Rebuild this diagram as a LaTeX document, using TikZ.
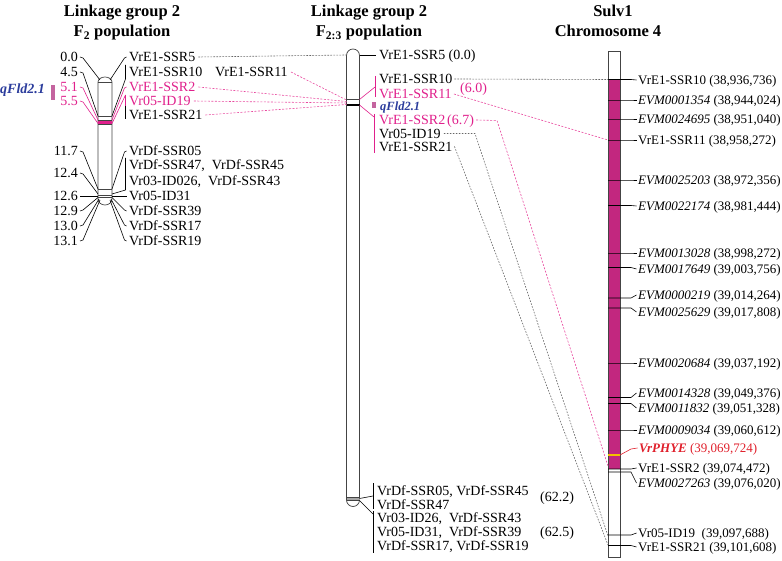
\documentclass[tikz,border=0pt]{standalone}
\usepackage{fontspec}
\setmainfont{Liberation Serif}
\definecolor{pk}{HTML}{E0208C}
\definecolor{pkd}{HTML}{E8489E}
\definecolor{mag}{HTML}{C2277F}
\definecolor{qbl}{HTML}{2B3C9C}
\definecolor{qbar}{HTML}{C4649F}
\definecolor{redt}{HTML}{E0202C}
\definecolor{yel}{HTML}{F2C100}
\definecolor{chr}{HTML}{444444}
\newcommand\RMark[4]{%
  \coordinate (rc#1) at (608,#2);
  \node[labR] (r#1) at (638,#3) {#4};
  \draw[cn] (rc#1) -- ++(23,0) -- ([xshift=-1.5pt]r#1.west);
}
\begin{document}
\begin{tikzpicture}[x=1pt,y=-1pt,
 titl/.style={font=\fontsize{16.5}{18}\selectfont\bfseries, anchor=base, inner sep=0},
 labL/.style={font=\fontsize{14}{16}\selectfont, anchor=west, inner sep=0, text height=9.3pt, text depth=0pt},
 numL/.style={labL, anchor=east},
 labR/.style={font=\fontsize{13}{15}\selectfont, anchor=west, inner sep=0, text height=8.6pt, text depth=0pt},
 cn/.style={line width=0.6pt, black},
 cnp/.style={line width=0.6pt, pk},
 dotg/.style={line width=0.6pt, black!60, dash pattern=on 1.6pt off 1.4pt},
 dotp/.style={line width=0.6pt, pkd, dash pattern=on 2pt off 1.5pt},
 chro/.style={line width=0.7pt, chr},
 qlab/.style={font=\fontsize{14}{16}\selectfont\bfseries\itshape, text=qbl, anchor=west, inner sep=0, text height=9.3pt, text depth=0pt},
]
\useasboundingbox (0,0) rectangle (782,561);

% ---------- titles ----------
\node[titl] (t1) at (122,17) {Linkage group 2};
\node[titl] (t2) at (122,37) {F\textsubscript{2} population};
\node[titl] (t3) at (369,17) {Linkage group 2};
\node[titl] (t4) at (369,37) {F\textsubscript{2:3} population};
\node[titl] (t5) at (613,17) {Sulv1};
\node[titl] (t6) at (608,37) {Chromosome 4};

% ---------- left chromosome ----------
\draw[chro, fill=white] (98,199) -- (98,82) arc[start angle=180,end angle=360,x radius=7,y radius=5]
   -- (112,199) arc[start angle=0,end angle=180,x radius=7,y radius=6] -- cycle;
\fill[pk] (98,120) rectangle (112,124);
\draw[chro] (98,82) -- (112,82);
\draw[chro] (98,116) -- (112,116);
\draw[chro] (98,120) -- (112,120);
\draw[chro] (98,124) -- (112,124);
\draw[chro] (98,189) -- (112,189);
\draw[chro] (98,195) -- (112,195);
\draw[chro] (98,197.5) -- (112,197.5);

\coordinate (cl0) at (100,80);  \coordinate (cr0) at (110,80);
\coordinate (cl1) at (98,116);  \coordinate (cr1) at (112,116);
\coordinate (cl2) at (98,120);  \coordinate (cr2) at (112,120);
\coordinate (cl3) at (98,123.5);\coordinate (cr3) at (112,123.5);
\coordinate (cl4) at (98,189);  \coordinate (cr4) at (112,189);
\coordinate (cl5) at (98,194);  \coordinate (cr5) at (112,194);
\coordinate (cl6) at (98,196);  \coordinate (cr6) at (112,196);
\coordinate (cl7) at (98,197.5);\coordinate (cr7) at (112,197.5);
\coordinate (cl8) at (99,199);  \coordinate (cr8) at (111,199);
\coordinate (cl9) at (100,200); \coordinate (cr9) at (110,200);

% numbers
\node[numL] (n1) at (78,57) {0.0};
\node[numL] (n2) at (78,72) {4.5};
\node[numL, text=pk] (n3) at (78,87) {5.1};
\node[numL, text=pk] (n4) at (78,101) {5.5};
\node[numL] (n5) at (78,151) {11.7};
\node[numL] (n6) at (78,173) {12.4};
\node[numL] (n7) at (78,196) {12.6};
\node[numL] (n8) at (78,211) {12.9};
\node[numL] (n9) at (78,226) {13.0};
\node[numL] (n10) at (78,241) {13.1};

\draw[cn]  ([xshift=2pt]n1.east) -- ++(3,1) -- (cl0);
\draw[cn]  ([xshift=2pt]n2.east) -- ++(3,1) -- (cl1);
\draw[cnp] ([xshift=2pt]n3.east) -- ++(3,1) -- (cl2);
\draw[cnp] ([xshift=2pt]n4.east) -- ++(3,1) -- (cl3);
\draw[cn]  ([xshift=2pt]n5.east) -- ++(3,1) -- (cl4);
\draw[cn]  ([xshift=2pt]n6.east) -- ++(3,1) -- (cl5);
\draw[cn]  ([xshift=2pt]n7.east) -- (cl6);
\draw[cn]  ([xshift=2pt]n8.east) -- ++(3,-1) -- (cl7);
\draw[cn]  ([xshift=2pt]n9.east) -- ++(3,-1) -- (cl8);
\draw[cn]  ([xshift=2pt]n10.east) -- ++(3,-1) -- (cl9);

% qFld2.1 (F2)
\node[qlab] (q1) at (0,89) {qFld2.1};
\fill[qbar] (50.5,85) rectangle (54.5,100.5);

% marker labels
\node[labL] (a1) at (129,57) {VrE1-SSR5};
\node[labL] (a2) at (129,72) {VrE1-SSR10};
\node[labL] (a2b) at (215,72) {VrE1-SSR11};
\node[labL, text=pk] (a3) at (129,87) {VrE1-SSR2};
\node[labL, text=pk] (a4) at (129,101) {Vr05-ID19};
\node[labL] (a5) at (129,115) {VrE1-SSR21};
\node[labL] (b1) at (129,151) {VrDf-SSR05};
\node[labL] (b2) at (129,165) {VrDf-SSR47,\ \ VrDf-SSR45};
\node[labL] (b3) at (129,181) {Vr03-ID026,\ \ VrDf-SSR43};
\node[labL] (b4) at (129,196) {Vr05-ID31};
\node[labL] (b5) at (129,211) {VrDf-SSR39};
\node[labL] (b6) at (129,226) {VrDf-SSR17};
\node[labL] (b7) at (129,241) {VrDf-SSR19};

\coordinate (bk1t) at (125.5,65);  \coordinate (bk1b) at (125.5,79);
\coordinate (bk2t) at (125.5,95);  \coordinate (bk2m) at (125.5,106); \coordinate (bk2b) at (125.5,119);
\coordinate (bk3t) at (125.5,158); \coordinate (bk3b) at (125.5,190);

\draw[cn]  ([xshift=-2.5pt]a1.west) -- ++(-2,1) -- (cr0);
\draw[cn]  (bk1t) -- (bk1b) -- (cr1);
\draw[cnp] ([xshift=-2.5pt]a3.west) -- ++(-2,1) -- (cr2);
\draw[cnp] (bk2t) -- (bk2m);
\draw[cn]  (bk2m) -- (bk2b);
\draw[cnp] (bk2t) -- (cr3);
\draw[cn]  ([xshift=-2.5pt]b1.west) -- ++(-2,1) -- (cr4);
\draw[cn]  (bk3t) -- (bk3b) -- (cr5);
\draw[cn]  ([xshift=-2.5pt]b4.west) -- (cr6);
\draw[cn]  ([xshift=-2.5pt]b5.west) -- ++(-2,-1) -- (cr7);
\draw[cn]  ([xshift=-2.5pt]b6.west) -- ++(-2,-1) -- (cr8);
\draw[cn]  ([xshift=-2.5pt]b7.west) -- ++(-2,-1) -- (cr9);

% ---------- middle chromosome ----------
\draw[chro, fill=white] (346.5,500) -- (346.5,55.5) arc[start angle=180,end angle=360,radius=6.5]
   -- (359.5,500) arc[start angle=0,end angle=180,radius=6.5] -- cycle;
\draw[chro] (346.5,99.5) -- (359.5,99.5);
\draw[line width=1.3pt, black] (346.5,105) -- (359.5,105);
\fill[black!35] (346.5,497.5) rectangle (359.5,500.5);
\draw[chro] (346.5,497.5) -- (359.5,497.5);
\draw[chro] (346.5,500.5) -- (359.5,500.5);

\coordinate (mL55) at (346.5,55);
\coordinate (mR55) at (359.5,55);
\coordinate (mLa) at (346.5,100);
\coordinate (mLb) at (346.5,101.5);
\coordinate (mLc) at (346.5,103);
\coordinate (mLd) at (346.5,104.5);
\coordinate (mRa) at (359.5,99.5);
\coordinate (mRb) at (359.5,105);
\coordinate (mRc) at (359.5,498.5);
\coordinate (mRd) at (359.5,500.5);

\node[labL] (m1) at (379,55) {VrE1-SSR5 (0.0)};
\node[labL] (m2) at (379,79) {VrE1-SSR10};
\node[labL, text=pk] (m3) at (379,94) {VrE1-SSR11};
\node[labL, text=pk] (m3n) at (460,88) {(6.0)};
\node[qlab, font=\fontsize{12.5}{14}\selectfont\bfseries\itshape] (mq) at (380,106) {qFld2.1};
\fill[qbar] (371.5,102) rectangle (375.5,108);
\node[labL, text=pk] (m4) at (379,120) {VrE1-SSR2};
\node[labL, text=pk] (m4n) at (447,120) {(6.7)};
\node[labL] (m5) at (379,133.5) {Vr05-ID19};
\node[labL] (m6) at (379,146.5) {VrE1-SSR21};

\coordinate (pb1t) at (375,76);  \coordinate (pb1m) at (375,87);  \coordinate (pb1b) at (375,97);
\coordinate (pb2t) at (374,114); \coordinate (pb2m) at (374,117); \coordinate (pb2b) at (374,153);
\draw[cn]  (mR55) -- ([xshift=-3pt]m1.west);
\draw[cnp] (pb1t) -- (pb1b);
\draw[cnp] (mRa) -- (pb1m);
\draw[cnp] (pb2t) -- (pb2b);
\draw[cnp] (mRb) -- (pb2m);

\node[labL] (mb1) at (377,491) {VrDf-SSR05, VrDf-SSR45};
\node[labL] (mb2) at (377,505) {VrDf-SSR47};
\node[labL] (mb3) at (540,497) {(62.2)};
\node[labL] (mb4) at (377,518) {Vr03-ID26,\ \ VrDf-SSR43};
\node[labL] (mb5) at (377,532) {Vr05-ID31,\ \ VrDf-SSR39};
\node[labL] (mb6) at (540,532) {(62.5)};
\node[labL] (mb7) at (377,546) {VrDf-SSR17, VrDf-SSR19};

\coordinate (kb1t) at (373,483); \coordinate (kb1m) at (373,496); \coordinate (kb1b) at (373,509);
\coordinate (kb2t) at (373,511); \coordinate (kb2m) at (373,514); \coordinate (kb2b) at (373,553);
\draw[cn] (kb1t) -- (kb1b);
\draw[cn] (mRc) -- (kb1m);
\draw[cn] (kb2t) -- (kb2b);
\draw[cn] (mRd) -- (kb2m);

% ---------- right chromosome ----------
\draw[chro, fill=white] (608,51) rectangle (620,557);
\fill[mag] (608,79.5) rectangle (620,469);
\draw[chro] (608,51) rectangle (620,557);

\RMark{1}{79.5}{80}{VrE1-SSR10 (38,936,736)}
\RMark{2}{100}{100}{\textit{EVM0001354} (38,944,024)}
\RMark{3}{119}{119}{\textit{EVM0024695} (38,951,040)}
\RMark{4}{140}{140}{VrE1-SSR11 (38,958,272)}
\RMark{5}{180}{180}{\textit{EVM0025203} (38,972,356)}
\RMark{6}{205.5}{206}{\textit{EVM0022174} (38,981,444)}
\RMark{7}{253}{253}{\textit{EVM0013028} (38,998,272)}
\RMark{8}{267.5}{269}{\textit{EVM0017649} (39,003,756)}
\RMark{9}{298}{295}{\textit{EVM0000219} (39,014,264)}
\RMark{10}{308}{312}{\textit{EVM0025629} (39,017,808)}
\RMark{11}{363}{363}{\textit{EVM0020684} (39,037,192)}
\RMark{12}{397.5}{393}{\textit{EVM0014328} (39,049,376)}
\RMark{13}{403.5}{408}{\textit{EVM0011832} (39,051,328)}
\RMark{14}{430}{430}{\textit{EVM0009034} (39,060,612)}
\RMark{16}{469}{468}{VrE1-SSR2 (39,074,472)}
\RMark{17}{472}{483}{\textit{EVM0027263} (39,076,020)}
\RMark{18}{535}{533}{Vr05-ID19\ \ (39,097,688)}
\RMark{19}{545.5}{547}{VrE1-SSR21 (39,101,608)}

\coordinate (phyL) at (608,455);
\coordinate (phyR) at (620,455);
\draw[line width=1.4pt, yel] (phyL) -- (phyR);
\node[labR, text=redt] (r15) at (639,448) {\textbf{\textit{VrPHYE}} (39,069,724)};
\draw[line width=0.6pt, redt] (phyR) -- ++(11,-6) -- ([xshift=-1.5pt]r15.west);

% ---------- inter-panel connectors ----------
\coordinate (rcA) at (608,79.5);
\coordinate (rcB) at (608,140);
\coordinate (rcC) at (608,466);
\coordinate (rcD) at (608,536);
\coordinate (rcE) at (608,545);
\coordinate (bendP) at (497,120.5);
\coordinate (bendG) at (475,133.5);

\draw[dotg] ([xshift=3pt]a1.east) -- (mL55);
\draw[dotp] ([xshift=3pt]a2b.east) -- (mLa);
\draw[dotp] ([xshift=3pt]a3.east) -- (mLb);
\draw[dotp] ([xshift=3pt]a4.east) -- (mLc);
\draw[dotp] ([xshift=3pt]a5.east) -- (mLd);

\draw[dotg] ([xshift=2pt]m2.east) -- (rcA);
\draw[dotp] ([xshift=2pt]m3.east) -- (rcB);
\draw[dotp] ([xshift=2pt]m4n.east) -- (bendP) -- (rcC);
\draw[dotg] ([xshift=3pt]m5.east) -- (bendG) -- (rcD);
\draw[dotg] ([xshift=2pt]m6.east) -- (rcE);
\end{tikzpicture}
\end{document}
